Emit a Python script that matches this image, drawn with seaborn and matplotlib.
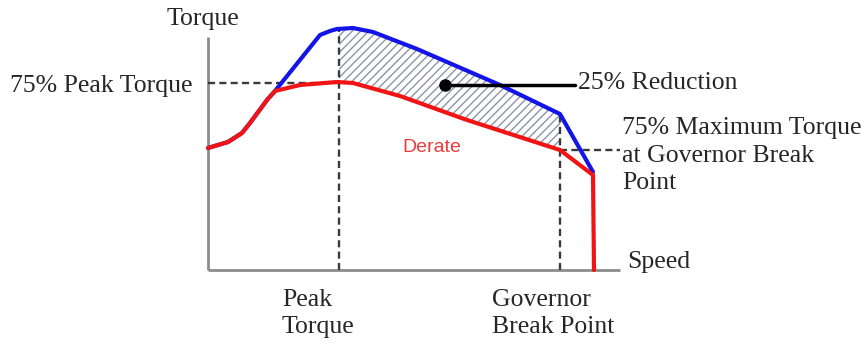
import numpy as np
import pandas as pd
import matplotlib
matplotlib.use("Agg")
import matplotlib.pyplot as plt
import seaborn as sns

# Full-torque curve (blue) and derated curve (red): speed vs torque, arbitrary units
full_speed = [0, 20, 34, 42, 59, 67, 112, 122, 129, 145, 165, 209, 292, 352, 385]
full_torque = [122, 128, 137, 147, 170, 179, 235, 239, 241, 242, 238, 221, 185, 156, 98]

derate_speed = [0, 20, 34, 42, 59, 67, 92, 129, 145, 192, 259, 352, 385, 386]
derate_torque = [122, 128, 137, 147, 170, 179, 185, 188, 187, 174, 150, 120, 95, 0]

peak_speed = 131          # speed at peak torque
governor_speed = 352      # governor break point speed
peak75_torque = 187       # 75% of peak torque
governor75_torque = 120   # 75% of maximum torque at governor break point

axis_x_max = 412
axis_y_max = 233

sns.set_style("white")
plt.rcParams["font.family"] = ["Liberation Serif", "DejaVu Serif"]

fig = plt.figure(figsize=(8.68, 3.44), dpi=100)
ax = fig.add_axes([0, 0, 1, 1])

full = pd.DataFrame({"speed": full_speed, "torque": full_torque})
derate = pd.DataFrame({"speed": derate_speed, "torque": derate_torque})

# Axes lines
ax.plot([0, 0], [0, axis_y_max], color="#8c8c8c", lw=2.0, solid_capstyle="butt")
ax.plot([0, axis_x_max], [0, 0], color="#8c8c8c", lw=2.0, solid_capstyle="butt")

# Hatched reduction area between the curves
xs = np.linspace(peak_speed, governor_speed, 200)
top = np.interp(xs, full_speed, full_torque)
bot = np.interp(xs, derate_speed[:-1], derate_torque[:-1])
ax.fill_between(xs, bot, top, facecolor="none", edgecolor="#8a96a8",
                hatch="////", linewidth=0)

# Reference dashed lines
dash = dict(color="#3a3a3a", lw=1.7, ls=(0, (3, 1.8)))
ax.plot([0, peak_speed], [peak75_torque, peak75_torque], **dash)
ax.plot([peak_speed, peak_speed], [0, np.interp(peak_speed, full_speed, full_torque)], **dash)
ax.plot([governor_speed, governor_speed], [0, np.interp(governor_speed, full_speed, full_torque)], **dash)
ax.plot([governor_speed, axis_x_max], [governor75_torque, governor75_torque], **dash)

# Curves
sns.lineplot(data=full, x="speed", y="torque", sort=False, ax=ax,
             color="#1414e6", lw=3.0, legend=False)
sns.lineplot(data=derate, x="speed", y="torque", sort=False, ax=ax,
             color="#f01414", lw=3.0, legend=False)
ax.set_xlim(-208, 660)
ax.set_ylim(-74, 270)
ax.axis("off")

# Annotation for the reduction
ax.plot([237, 367], [185, 185], color="black", lw=2.5)
ax.plot([237], [185], marker="o", color="black", ms=8)

fs = 18.5
ax.text(370, 187, "25% Reduction", fontsize=fs, va="center", ha="left")
ax.text(-5, 251, "Torque", fontsize=fs, va="center", ha="center")
ax.text(-15, 184, "75% Peak Torque", fontsize=fs, va="center", ha="right")
ax.text(419, 8, "Speed", fontsize=fs, va="center", ha="left")
ax.text(414, 153, "75% Maximum Torque\nat Governor Break\nPoint", fontsize=fs,
        va="top", ha="left", linespacing=1.33)
ax.text(74, -19, "Peak\nTorque", fontsize=fs, va="top", ha="left", linespacing=1.3)
ax.text(284, -19, "Governor\nBreak Point", fontsize=fs, va="top", ha="left", linespacing=1.3)
ax.text(224, 122, "Derate", fontsize=14, va="center", ha="center",
        color="#ee3a3a", family="Liberation Sans")

fig.savefig("out.png", dpi=100)
